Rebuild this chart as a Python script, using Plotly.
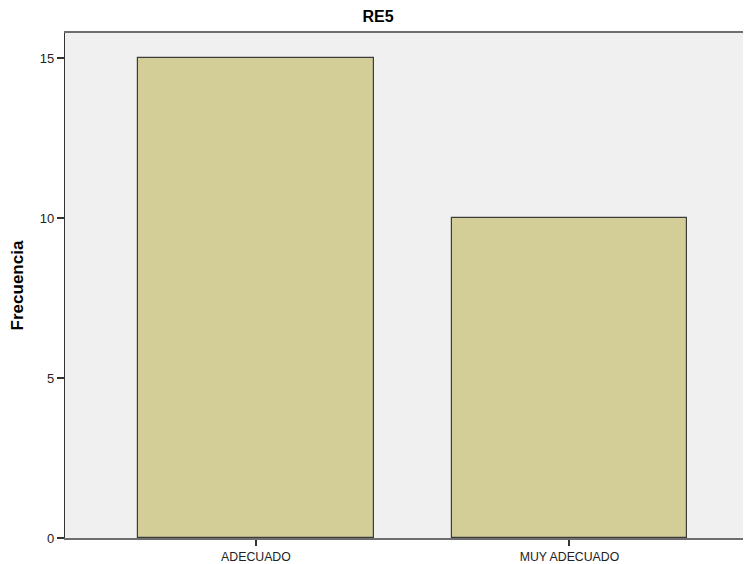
import plotly.graph_objects as go

categories = ["ADECUADO", "MUY ADECUADO"]
frecuencia = [15, 10]
y_ticks = [0, 5, 10, 15]

fig = go.Figure()
fig.add_trace(go.Bar(
    x=categories, y=frecuencia, width=0.75,
    marker=dict(color="#D3CE98", line=dict(color="#3C3C3C", width=1.2)),
))

# page body has an 8px margin; figure sized so that it ends at the window edge
fig.update_layout(
    width=743, height=556,
    margin=dict(l=57, r=0, t=25, b=26, autoexpand=False),
    paper_bgcolor="white", plot_bgcolor="#F0F0F0",
    font=dict(family="Arial, Liberation Sans, sans-serif", size=12, color="#222222"),
    title=dict(text="<b>RE5</b>", x=0.498, xanchor="center", xref="container",
               y=0.985, yanchor="middle", yref="container",
               font=dict(size=16, color="#000000")),
    showlegend=False, bargap=0,
)
fig.update_xaxes(
    range=[-0.609, 1.579], showgrid=False, zeroline=False, automargin=False,
    showline=True, linecolor="#6E6E6E", linewidth=1.5, mirror=True,
    ticks="outside", ticklen=6, tickcolor="#333333", tickwidth=1.5,
    tickfont=dict(size=12.3, color="#222222"),
)
fig.update_yaxes(
    range=[0, 15.78], tickvals=y_ticks, showgrid=False, zeroline=False, automargin=False,
    showline=True, linecolor="#333333", linewidth=1.2,
    ticks="outside", ticklen=7, tickcolor="#333333", tickwidth=1.5,
    tickfont=dict(size=13, color="#222222"),
    title=dict(text="<b>Frecuencia</b>", font=dict(size=17, color="#000000"), standoff=14),
)

fig.write_html("out.html")
